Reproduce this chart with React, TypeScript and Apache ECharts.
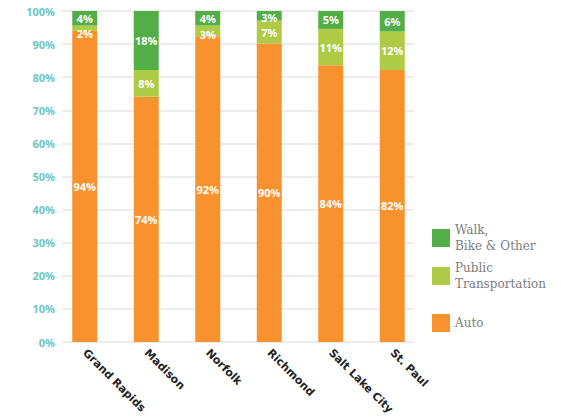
import React, { useEffect, useRef } from "react";
import * as echarts from "echarts";

const cities = ["Grand Rapids", "Madison", "Norfolk", "Richmond", "Salt Lake City", "St. Paul"];
const autoShare = [94.0, 74.1, 92.4, 90.2, 83.6, 82.2];
const publicShare = [1.6, 8.1, 3.2, 6.9, 11.0, 11.6];
const walkShare = [4.4, 17.8, 4.4, 2.9, 5.4, 6.2];
const yTicks = [0, 10, 20, 30, 40, 50, 60, 70, 80, 90, 100];

const ORANGE = "#F7922F";
const LIGHT = "#AFCB45";
const GREEN = "#54AE47";

// thin segments get their label nudged downward, as in the original
const withNudge = (vals: number[], from: number, k: number) =>
  vals.map((v) => ({
    value: v,
    label: { offset: [0, Math.max(0, (from - v) * k)] },
  }));

export default function App() {
  const ref = useRef<HTMLDivElement>(null);
  useEffect(() => {
    if (!ref.current) return;
    const chart = echarts.init(ref.current, undefined, { renderer: "svg" });
    const label = {
      show: true,
      position: "inside",
      color: "#fff",
      fontFamily: "Noto Sans",
      fontWeight: "bold",
      fontSize: 11,
      lineHeight: 11,
      formatter: (p: any) => Math.round(p.value) + "%",
    };
    const legendText = {
      fontFamily: "DejaVu Serif",
      fontSize: 12,
      color: "#7d7d7d",
      lineHeight: 16,
    };
    chart.setOption({
      animation: false,
      backgroundColor: "#fff",
      grid: [
        { left: 54, width: 369, top: 11, height: 331 },
        { left: 62, width: 352, top: 11, height: 331 },
      ],
      legend: [
        {
          data: ["Walk, Bike & Other"],
          orient: "vertical",
          left: 432,
          top: 222,
          padding: 0,
          itemWidth: 18,
          itemHeight: 18,
          icon: "rect",
          formatter: () => "Walk,\nBike & Other",
          textStyle: legendText,
        },
        {
          data: ["Public Transportation"],
          orient: "vertical",
          left: 432,
          top: 253,
          padding: 0,
          itemWidth: 18,
          itemHeight: 18,
          icon: "rect",
          formatter: () => "Public\nTransportation",
          textStyle: { ...legendText, padding: [14, 0, 0, 0] },
        },
        {
          data: ["Auto"],
          orient: "vertical",
          left: 432,
          top: 314,
          padding: 0,
          itemWidth: 18,
          itemHeight: 18,
          icon: "rect",
          textStyle: legendText,
        },
      ],
      xAxis: [
        {
          type: "category",
          gridIndex: 0,
          data: cities,
          axisLine: { show: false },
          axisTick: { show: false },
          axisLabel: {
            rotate: -45,
            margin: 9,
            interval: 0,
            color: "#222",
            fontFamily: "DejaVu Sans",
            fontWeight: "bold",
            fontSize: 11,
          },
        },
        { type: "category", gridIndex: 1, data: cities, show: false },
      ],
      yAxis: [
        { type: "value", gridIndex: 0, min: 0, max: 100, show: false, splitLine: { show: false } },
        {
          type: "value",
          gridIndex: 1,
          min: 0,
          max: 100,
          interval: 10,
          axisLine: { show: false },
          axisTick: { show: false },
          splitLine: { show: true, lineStyle: { color: "#e6e6e6", width: 1.5 } },
          axisLabel: {
            margin: 7,
            color: "#6CC5C2",
            fontFamily: "Noto Sans",
            fontWeight: "bold",
            fontSize: 11,
            formatter: (v: number) => (yTicks.includes(v) ? v + "%" : ""),
          },
        },
      ],
      series: [
        {
          name: "Auto",
          type: "bar",
          stack: "s",
          barWidth: 25,
          xAxisIndex: 0,
          yAxisIndex: 0,
          data: autoShare,
          itemStyle: { color: ORANGE },
          label,
          z: 3,
        },
        {
          name: "Public Transportation",
          type: "bar",
          stack: "s",
          barWidth: 25,
          xAxisIndex: 0,
          yAxisIndex: 0,
          data: withNudge(publicShare, 6, 1.3),
          itemStyle: { color: LIGHT },
          label,
          z: 3,
        },
        {
          name: "Walk, Bike & Other",
          type: "bar",
          stack: "s",
          barWidth: 25,
          xAxisIndex: 0,
          yAxisIndex: 0,
          data: withNudge(walkShare, 5, 1),
          itemStyle: { color: GREEN },
          label,
          z: 3,
        },
      ],
    });
    return () => chart.dispose();
  }, []);
  return <div ref={ref} style={{ width: 561, height: 419, position: "absolute", left: 0, top: 0 }} />;
}
